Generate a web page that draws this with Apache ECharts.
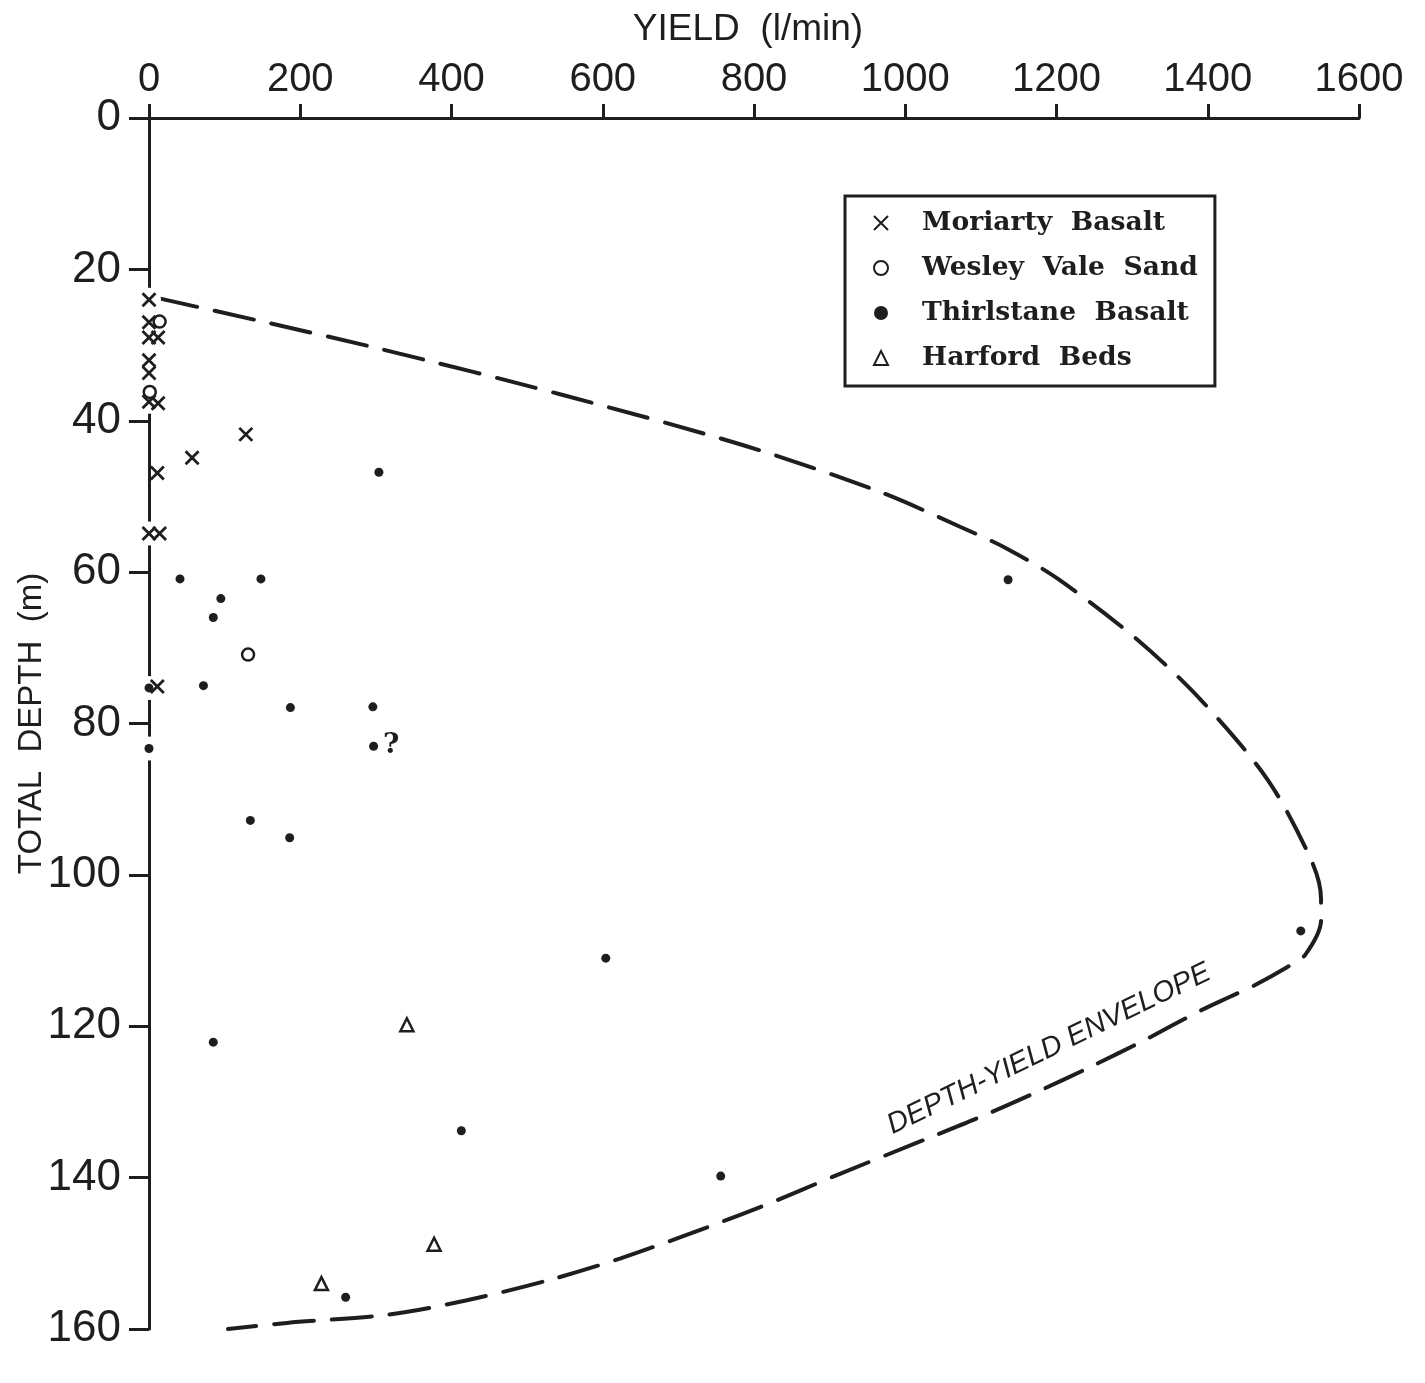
<!DOCTYPE html>
<html>
<head>
<meta charset="utf-8">
<script src="https://cdn.jsdelivr.net/npm/echarts@6/dist/echarts.min.js"></script>
<style>
html,body{margin:0;padding:0;background:#fff;}
#chart{width:1425px;height:1383px;}
</style>
</head>
<body>
<div id="chart"></div>
<script>
// ---- data (yield l/min, total depth m) ----
var xTicks = [0, 200, 400, 600, 800, 1000, 1200, 1400, 1600];
var yTicks = [0, 20, 40, 60, 80, 100, 120, 140, 160];

var moriartyYield = [0, 0, 0, 12, 0, 0, 0, 12, 128, 57, 11, 0, 14, 11];
var moriartyDepth = [24, 27, 29, 29, 32, 33.7, 37.5, 37.7, 41.8, 44.9, 46.9, 54.9, 54.9, 75.1];

var wesleyYield = [14, 1, 131];
var wesleyDepth = [26.9, 36.2, 70.9];

var thirlYield = [304, 41, 148, 1136, 95, 85, 0, 72, 187, 296, 0, 297, 134, 186, 1523, 604, 85, 413, 756, 260];
var thirlDepth = [46.8, 60.9, 60.9, 61.0, 63.5, 66.0, 75.3, 75.0, 77.9, 77.8, 83.3, 83.0, 92.8, 95.1, 107.4, 111.0, 122.1, 133.8, 139.8, 155.8];
var questionMarkIndex = 11; // Thirlstane point marked "?"

var harfordYield = [341, 377, 228];
var harfordDepth = [119.8, 148.8, 154.0];

var envelopeYield = [12, 141.5, 305.5, 543.5, 788.1, 966.6, 1072.4, 1134.5, 1202, 1307.8, 1391.1, 1479.7, 1537.9, 1549.8, 1549.8, 1528.6, 1504.8, 1459.8, 1429.4, 1387.1, 1317, 1244.3, 1171.6, 1098.8, 1030.1, 913.7, 808, 715.4, 622.8, 530.2, 420.5, 316, 182.5, 104.5];
var envelopeDepth = [23.8, 26.7, 30.5, 36.5, 43.3, 49.4, 54.0, 56.9, 60.9, 69.0, 76.9, 87.5, 98.3, 103.2, 106.0, 110.6, 112.2, 114.7, 116.1, 118.1, 121.8, 125.4, 128.8, 132.0, 134.8, 139.5, 143.9, 147.4, 150.7, 153.5, 156.2, 158.1, 159.2, 160.0];

var seriesNames = ['Moriarty Basalt', 'Wesley Vale Sand', 'Thirlstane Basalt', 'Harford Beds'];
var legendText = { 'Moriarty Basalt': 'Moriarty  Basalt', 'Wesley Vale Sand': 'Wesley  Vale  Sand',
                   'Thirlstane Basalt': 'Thirlstane  Basalt', 'Harford Beds': 'Harford  Beds' };
var envelopeLabel = 'DEPTH-YIELD ENVELOPE';

function pairs(xs, ys) { return xs.map(function (x, i) { return [x, ys[i]]; }); }

var ink = '#1e1e1e';
var sans = '"Liberation Sans", Arial, sans-serif';

var thirlData = pairs(thirlYield, thirlDepth).map(function (p, i) {
  if (i === questionMarkIndex) {
    return { value: p, label: { show: true, formatter: '?', position: 'right', distance: 5,
      fontFamily: '"DejaVu Serif", serif', fontWeight: 'bold', fontSize: 28, color: ink, offset: [0, 0] } };
  }
  return p;
});

// white knock-out halos under the markers that sit on the depth axis (as in the original plot)
var haloData = []
  .concat(pairs(moriartyYield, moriartyDepth), pairs(wesleyYield, wesleyDepth),
          pairs(thirlYield, thirlDepth), pairs(harfordYield, harfordDepth))
  .filter(function (p) { return p[0] <= 2; });

var chart = echarts.init(document.getElementById('chart'), null, { renderer: 'canvas' });
chart.setOption({
  backgroundColor: '#fff',
  animation: false,
  grid: { left: 149, top: 118, right: 66, bottom: 54, containLabel: false, outerBoundsMode: 'none' },
  xAxis: {
    type: 'value', position: 'top', min: 0, max: 1600, interval: 200,
    name: 'YIELD  (l/min)', nameLocation: 'middle', nameGap: 70,
    nameTextStyle: { fontFamily: sans, fontSize: 37, color: ink, padding: [0, 12, 0, 0] },
    axisLine: { show: true, onZero: false, lineStyle: { color: ink, width: 3 } },
    axisTick: { show: true, inside: false, length: 14, lineStyle: { color: ink, width: 3 } },
    axisLabel: { show: true, margin: 18, fontFamily: sans, fontSize: 40, color: ink,
      formatter: function (v) { return String(v); } },
    splitLine: { show: false }
  },
  yAxis: {
    type: 'value', inverse: true, min: 0, max: 160, interval: 20,
    name: 'TOTAL  DEPTH  (m)', nameLocation: 'middle', nameGap: 101, nameRotate: 90,
    nameMoveOverlap: false,
    nameTextStyle: { fontFamily: sans, fontSize: 33, color: ink },
    axisLine: { show: true, onZero: false, lineStyle: { color: ink, width: 3 } },
    axisTick: { show: true, inside: false, length: 20, lineStyle: { color: ink, width: 3 } },
    axisLabel: { show: true, margin: 28, fontFamily: sans, fontSize: 44, color: ink,
      formatter: function (v) { return String(v); } },
    splitLine: { show: false }
  },
  legend: {
    show: true, data: seriesNames, orient: 'vertical', left: 845, top: 196,
    padding: [12, 17, 13, 28], itemGap: 15, itemWidth: 14, itemHeight: 14, symbolKeepAspect: true,
    borderColor: ink, borderWidth: 3, backgroundColor: '#fff',
    formatter: function (n) { return legendText[n] || n; },
    textStyle: { fontFamily: '"DejaVu Serif", serif', fontWeight: 'bold', fontSize: 26.6, color: ink,
      width: 274, lineHeight: 30, padding: [0, 0, 0, 29] },
    selectedMode: false
  },
  graphic: [{
    type: 'text', x: 1049, y: 1049, rotation: 26 * Math.PI / 180,
    style: { text: envelopeLabel, fontFamily: sans, fontStyle: 'italic', fontSize: 29, fill: ink,
      align: 'center', verticalAlign: 'middle' }
  }],
  series: [
    {
      name: 'envelope', type: 'line', data: pairs(envelopeYield, envelopeDepth), smooth: 0.3,
      symbol: 'none', silent: true, z: 1,
      lineStyle: { color: ink, width: 4, type: [40, 18], cap: 'round' }
    },
    {
      name: 'halo', type: 'scatter', data: haloData, symbol: 'circle', symbolSize: 24,
      silent: true, z: 2, itemStyle: { color: '#fff', opacity: 1 }
    },
    {
      name: seriesNames[0], type: 'scatter', data: pairs(moriartyYield, moriartyDepth),
      symbol: 'path://M0,0L10,10M10,0L0,10', symbolSize: 13, z: 3,
      itemStyle: { color: 'rgba(0,0,0,0)', borderColor: ink, borderWidth: 2.8, opacity: 1 }
    },
    {
      name: seriesNames[1], type: 'scatter', data: pairs(wesleyYield, wesleyDepth),
      symbol: 'circle', symbolSize: 12, z: 3,
      itemStyle: { color: '#fff', borderColor: ink, borderWidth: 2.5, opacity: 1 }
    },
    {
      name: seriesNames[2], type: 'scatter', data: thirlData,
      symbol: 'circle', symbolSize: 9, z: 3,
      itemStyle: { color: ink, opacity: 1 }
    },
    {
      name: seriesNames[3], type: 'scatter', data: pairs(harfordYield, harfordDepth),
      symbol: 'triangle', symbolSize: 13, z: 3,
      itemStyle: { color: '#fff', borderColor: ink, borderWidth: 2.5, opacity: 1 }
    }
  ]
});
</script>
</body>
</html>
